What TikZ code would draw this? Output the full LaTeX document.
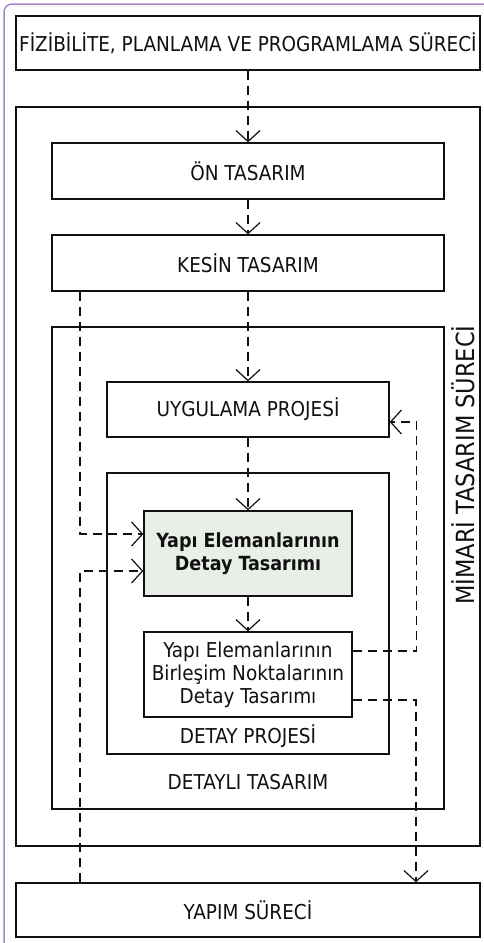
\documentclass[tikz,border=0pt]{standalone}
\usepackage{fontspec}
\setmainfont{DejaVu Sans Condensed}
\usetikzlibrary{arrows.meta,calc}
\definecolor{framepurple}{HTML}{A985D0}
\definecolor{boxgreen}{HTML}{E8EFE6}
\definecolor{ink}{HTML}{111111}
\begin{document}
\begin{tikzpicture}[x=1pt,y=-1pt,
  box/.style={draw=ink, line width=1.3pt, fill=white, inner sep=0pt, text=ink},
  lbl/.style={font=\fontsize{20.5}{23}\selectfont, align=center, text=ink},
  flow/.style={draw=ink, line width=1.2pt, dash pattern=on 9pt off 6pt,
    -{Straight Barb[length=11pt,width=24pt,line width=1.2pt]}}]
\useasboundingbox (0,0) rectangle (484,943);
\fill[white] (0,0) rectangle (484,943);
\draw[framepurple, line width=1.5pt, rounded corners=8pt] (4,943) -- (4,4) -- (484,4);

% containers
\node[box, minimum width=464pt, minimum height=739pt] (mimari) at (248,476.5) {};
\node[box, minimum width=392pt, minimum height=482pt] (detayli) at (248,568) {};
\node[box, minimum width=282pt, minimum height=281pt] (dproj) at (248,613.5) {};

% boxes
\node[box, lbl, minimum width=464pt, minimum height=54pt] (fiz) at (248,43) {FİZİBİLİTE, PLANLAMA VE PROGRAMLAMA SÜRECİ};
\node[box, lbl, minimum width=392pt, minimum height=56pt] (on) at (248,171) {ÖN TASARIM};
\node[box, lbl, minimum width=392pt, minimum height=56pt] (kesin) at (248,263) {KESİN TASARIM};
\node[box, lbl, minimum width=282pt, minimum height=55pt] (uyg) at (248,409.5) {UYGULAMA PROJESİ};
\node[box, lbl, fill=boxgreen, font=\bfseries\fontsize{19.5}{23}\selectfont, minimum width=208pt, minimum height=85pt] (ydet) at (248,553.5) {Yapı Elemanlarının\\Detay Tasarımı};
\node[box, lbl, minimum width=208pt, minimum height=85pt] (birl) at (248,674.5) {Yapı Elemanlarının\\Birleşim Noktalarının\\Detay Tasarımı};
\node[box, lbl, minimum width=464pt, minimum height=54pt] (yapim) at (248,910) {YAPIM SÜRECİ};

% container labels
\node[lbl] (dplbl) at (248,736) {DETAY PROJESİ};
\node[lbl] (dtlbl) at (248,782) {DETAYLI TASARIM};
\node[lbl, font=\fontsize{25}{25}\selectfont, rotate=90] (mlbl) at (463,465) {MİMARİ TASARIM SÜRECİ};

% helper coordinates
\coordinate (lx) at (80,0);
\coordinate (rx) at (416,0);

% connectors
\draw[flow] (fiz.south) -- (on.north);
\draw[flow] (on.south) -- (kesin.north);
\draw[flow] (kesin.south) -- (uyg.north);
\draw[flow] (uyg.south) -- (ydet.north);
\draw[flow] (ydet.south) -- (birl.north);
\draw[flow] (kesin.south -| lx) |- ($(ydet.west)+(0,-19.5)$);
\draw[flow] (yapim.north -| lx) |- ($(ydet.west)+(0,17.5)$);
\draw[flow] ($(birl.east)+(0,-23.5)$) -| ($(uyg.east)+(27,12.5)$) -- ($(uyg.east)+(0,12.5)$);
\draw[flow] ($(birl.east)+(0,25.5)$) -| (yapim.north -| rx);
\end{tikzpicture}
\end{document}
